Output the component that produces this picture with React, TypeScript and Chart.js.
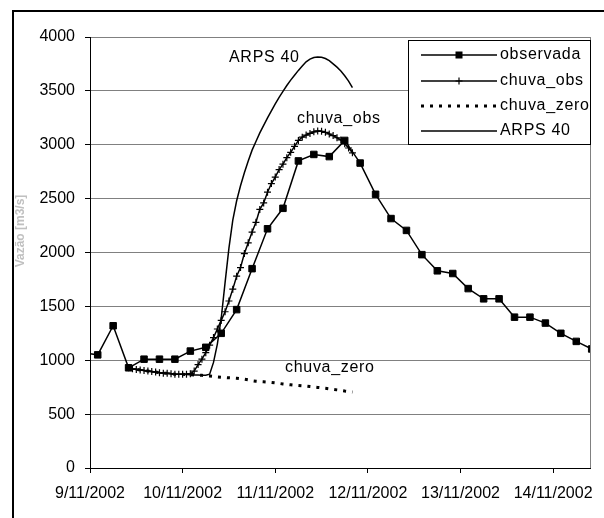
import { useEffect, useRef } from 'react';
import { Chart, registerables } from 'chart.js';

Chart.register(...registerables);

const FONT = "'Liberation Sans', Arial, sans-serif";

// x axis: hours since 9/11/2002 00:00
const DAY_LABELS = ['9/11/2002', '10/11/2002', '11/11/2002', '12/11/2002', '13/11/2002', '14/11/2002'];
const Y_TICK_STEP = 500;
const Y_MAX = 4000;
const X_MAX_HOURS = 129.7;

const SERIES_NAMES = ['observada', 'chuva_obs', 'chuva_zero', 'ARPS 40'];

// observed discharge, every 4 hours starting at -2 h
const OBS_START_HOUR = -2;
const OBS_STEP_HOURS = 4;
const observada = [
  1070, 1050, 1320, 930, 1010, 1010, 1010, 1085, 1120, 1250, 1470, 1850, 2220, 2410, 2850, 2910, 2890,
  3040, 2830, 2540, 2315, 2205, 1980, 1830, 1805, 1665, 1570, 1570, 1400, 1400, 1345, 1250, 1175, 1105,
];

// simulations, hourly starting at 10 h
const SIM_START_HOUR = 10;
const chuvaObs = [
  930, 920, 915, 910, 905, 900, 895, 890, 885, 880,
  880, 875, 870, 870, 870, 870, 875, 900, 960, 1010,
  1070, 1140, 1210, 1290, 1370, 1450, 1550, 1660, 1780, 1860,
  1990, 2090, 2190, 2280, 2400, 2460, 2560, 2640, 2700, 2770,
  2820, 2880, 2930, 2985, 3040, 3070, 3090, 3105, 3120, 3128,
  3125, 3115, 3100, 3085, 3065, 3045, 3010, 2970, 2925,
];
const chuvaZero = [
  930, 920, 915, 910, 905, 900, 895, 890, 885, 880,
  880, 875, 870, 870, 870, 868, 866, 864, 862, 860,
  857, 854, 850, 845, 842, 840, 837, 835, 832, 828,
  824, 818, 810, 805, 802, 800, 797, 794, 790, 785,
  780, 776, 772, 768, 766, 763, 760, 756, 752, 748,
  744, 740, 735, 730, 725, 720, 714, 710, 706,
];
const arps40 = [
  930, 920, 915, 910, 905, 900, 895, 890, 885, 880,
  880, 875, 870, 870, 870, 868, 866, 864, 862, 860,
  860, 870, 980, 1150, 1390, 1720, 2040, 2300, 2480, 2620,
  2740, 2850, 2950, 3030, 3110, 3180, 3250, 3315, 3380, 3440,
  3495, 3550, 3600, 3645, 3690, 3730, 3770, 3795, 3810, 3815,
  3812, 3800, 3780, 3750, 3720, 3685, 3640, 3590, 3530,
];

const toPoints = (vals: number[], start: number, step: number) =>
  vals.map((y, i) => ({ x: start + i * step, y }));

const DOT_DASH = [3, 6];

const decorPlugin = {
  id: 'decor',
  beforeDraw(chart: any) {
    const { ctx, width, height } = chart;
    ctx.save();
    ctx.fillStyle = '#fff';
    ctx.fillRect(0, 0, width, height);
    // outer frame (left and top visible)
    ctx.strokeStyle = '#000';
    ctx.lineWidth = 2;
    ctx.beginPath();
    ctx.moveTo(13, height);
    ctx.lineTo(13, 11);
    ctx.lineTo(width, 11);
    ctx.stroke();
    ctx.restore();
  },
  afterDraw(chart: any) {
    const { ctx, chartArea } = chart;
    const ca = chartArea;
    ctx.save();
    // right border of plot area
    ctx.strokeStyle = '#808080';
    ctx.lineWidth = 1;
    ctx.beginPath();
    ctx.moveTo(Math.round(ca.right) - 0.5, ca.top);
    ctx.lineTo(Math.round(ca.right) - 0.5, ca.bottom);
    ctx.stroke();

    // y axis title
    ctx.save();
    ctx.translate(21, 231);
    ctx.rotate(-Math.PI / 2);
    ctx.font = `bold 12px ${FONT}`;
    ctx.fillStyle = '#c0c0c0';
    ctx.textAlign = 'center';
    ctx.textBaseline = 'middle';
    ctx.fillText('Vazão [m3/s]', 0, 0);
    ctx.restore();

    // annotations
    ctx.font = `16px ${FONT}`;
    (ctx as any).letterSpacing = '0.7px';
    ctx.fillStyle = '#000';
    ctx.textAlign = 'left';
    ctx.textBaseline = 'middle';
    ctx.fillText(SERIES_NAMES[3], 229, 58);
    ctx.fillText(SERIES_NAMES[1], 297, 119);
    ctx.fillText(SERIES_NAMES[2], 285, 368);

    // legend
    const bx = 408.5, by = 40.5, bw = Math.round(ca.right) - 0.5 - bx, bh = 104;
    ctx.fillStyle = '#fff';
    ctx.fillRect(bx, by, bw, bh);
    ctx.strokeStyle = '#000';
    ctx.lineWidth = 1;
    ctx.strokeRect(bx, by, bw, bh);
    const rows = [55, 81, 106, 131];
    const x0 = 421, x1 = 497;
    rows.forEach((ry, i) => {
      ctx.strokeStyle = '#000';
      ctx.setLineDash(i === 2 ? DOT_DASH : []);
      ctx.lineWidth = i === 2 ? 3 : 1.5;
      ctx.beginPath();
      ctx.moveTo(x0, ry);
      ctx.lineTo(x1, ry);
      ctx.stroke();
      ctx.setLineDash([]);
      const mx = (x0 + x1) / 2;
      if (i === 0) {
        ctx.fillStyle = '#000';
        ctx.fillRect(mx - 3.5, ry - 3.5, 7, 7);
      } else if (i === 1) {
        ctx.lineWidth = 1.2;
        ctx.beginPath();
        ctx.moveTo(mx - 3.5, ry);
        ctx.lineTo(mx + 3.5, ry);
        ctx.moveTo(mx, ry - 3.5);
        ctx.lineTo(mx, ry + 3.5);
        ctx.stroke();
      }
      ctx.fillStyle = '#000';
      ctx.fillText(SERIES_NAMES[i], 500, ry);
    });
    ctx.restore();
  },
};

export default function App() {
  const ref = useRef<HTMLCanvasElement>(null);
  useEffect(() => {
    const chart = new Chart(ref.current as HTMLCanvasElement, {
      type: 'line',
      data: {
        datasets: [
          {
            label: SERIES_NAMES[0],
            data: toPoints(observada, OBS_START_HOUR, OBS_STEP_HOURS),
            borderColor: '#000',
            backgroundColor: '#000',
            borderWidth: 1.5,
            pointStyle: 'rect',
            pointRadius: 4.6,
            pointBorderWidth: 1,
            pointBackgroundColor: '#000',
            pointBorderColor: '#000',
            tension: 0,
          },
          {
            label: SERIES_NAMES[1],
            data: toPoints(chuvaObs, SIM_START_HOUR, 1),
            borderColor: '#000',
            borderWidth: 1.5,
            pointStyle: 'cross',
            pointRadius: 3.5,
            pointBorderWidth: 1.2,
            pointBorderColor: '#000',
            tension: 0,
          },
          {
            label: SERIES_NAMES[2],
            data: toPoints(chuvaZero, SIM_START_HOUR, 1),
            borderColor: '#000',
            borderWidth: 3,
            borderDash: DOT_DASH,
            pointRadius: 0,
            tension: 0,
          },
          {
            label: SERIES_NAMES[3],
            data: toPoints(arps40, SIM_START_HOUR, 1),
            borderColor: '#000',
            borderWidth: 1.5,
            pointRadius: 0,
            tension: 0,
          },
        ],
      },
      options: {
        animation: false,
        responsive: false,
        devicePixelRatio: 1,
        events: [],
        parsing: false as any,
        layout: { padding: { left: 0, top: 37, right: 6, bottom: 0 } },
        plugins: { legend: { display: false }, tooltip: { enabled: false }, title: { display: false } },
        scales: {
          x: {
            type: 'linear',
            min: 0,
            max: X_MAX_HOURS,
            border: { display: true, color: '#000', width: 1 },
            grid: { display: true, drawOnChartArea: false, drawTicks: true, tickLength: 5, tickColor: '#000' },
            ticks: {
              stepSize: 24,
              includeBounds: false,
              autoSkip: false,
              maxRotation: 0,
              padding: 11,
              color: '#000',
              font: { family: FONT, size: 16 },
              callback: (v: any) => DAY_LABELS[Math.round(Number(v) / 24)] ?? '',
            },
            afterFit: (s: any) => { s.height = 50; },
          },
          y: {
            type: 'linear',
            min: 0,
            max: Y_MAX,
            border: { display: true, color: '#000', width: 1 },
            grid: { color: '#808080', lineWidth: 1, drawTicks: true, tickLength: 5, tickColor: '#000' },
            ticks: {
              stepSize: Y_TICK_STEP,
              padding: 10,
              color: '#000',
              font: { family: FONT, size: 16 },
              callback: (v: any) => String(v),
            },
            afterFit: (s: any) => { s.width = 90; },
          },
        },
      },
      plugins: [decorPlugin],
    } as any);
    return () => chart.destroy();
  }, []);
  return (
    <div style={{ position: 'fixed', left: 0, top: 0, width: 604, height: 518, background: '#fff' }}>
      <canvas ref={ref} width={604} height={518} style={{ display: 'block', width: 604, height: 518 }} />
    </div>
  );
}
